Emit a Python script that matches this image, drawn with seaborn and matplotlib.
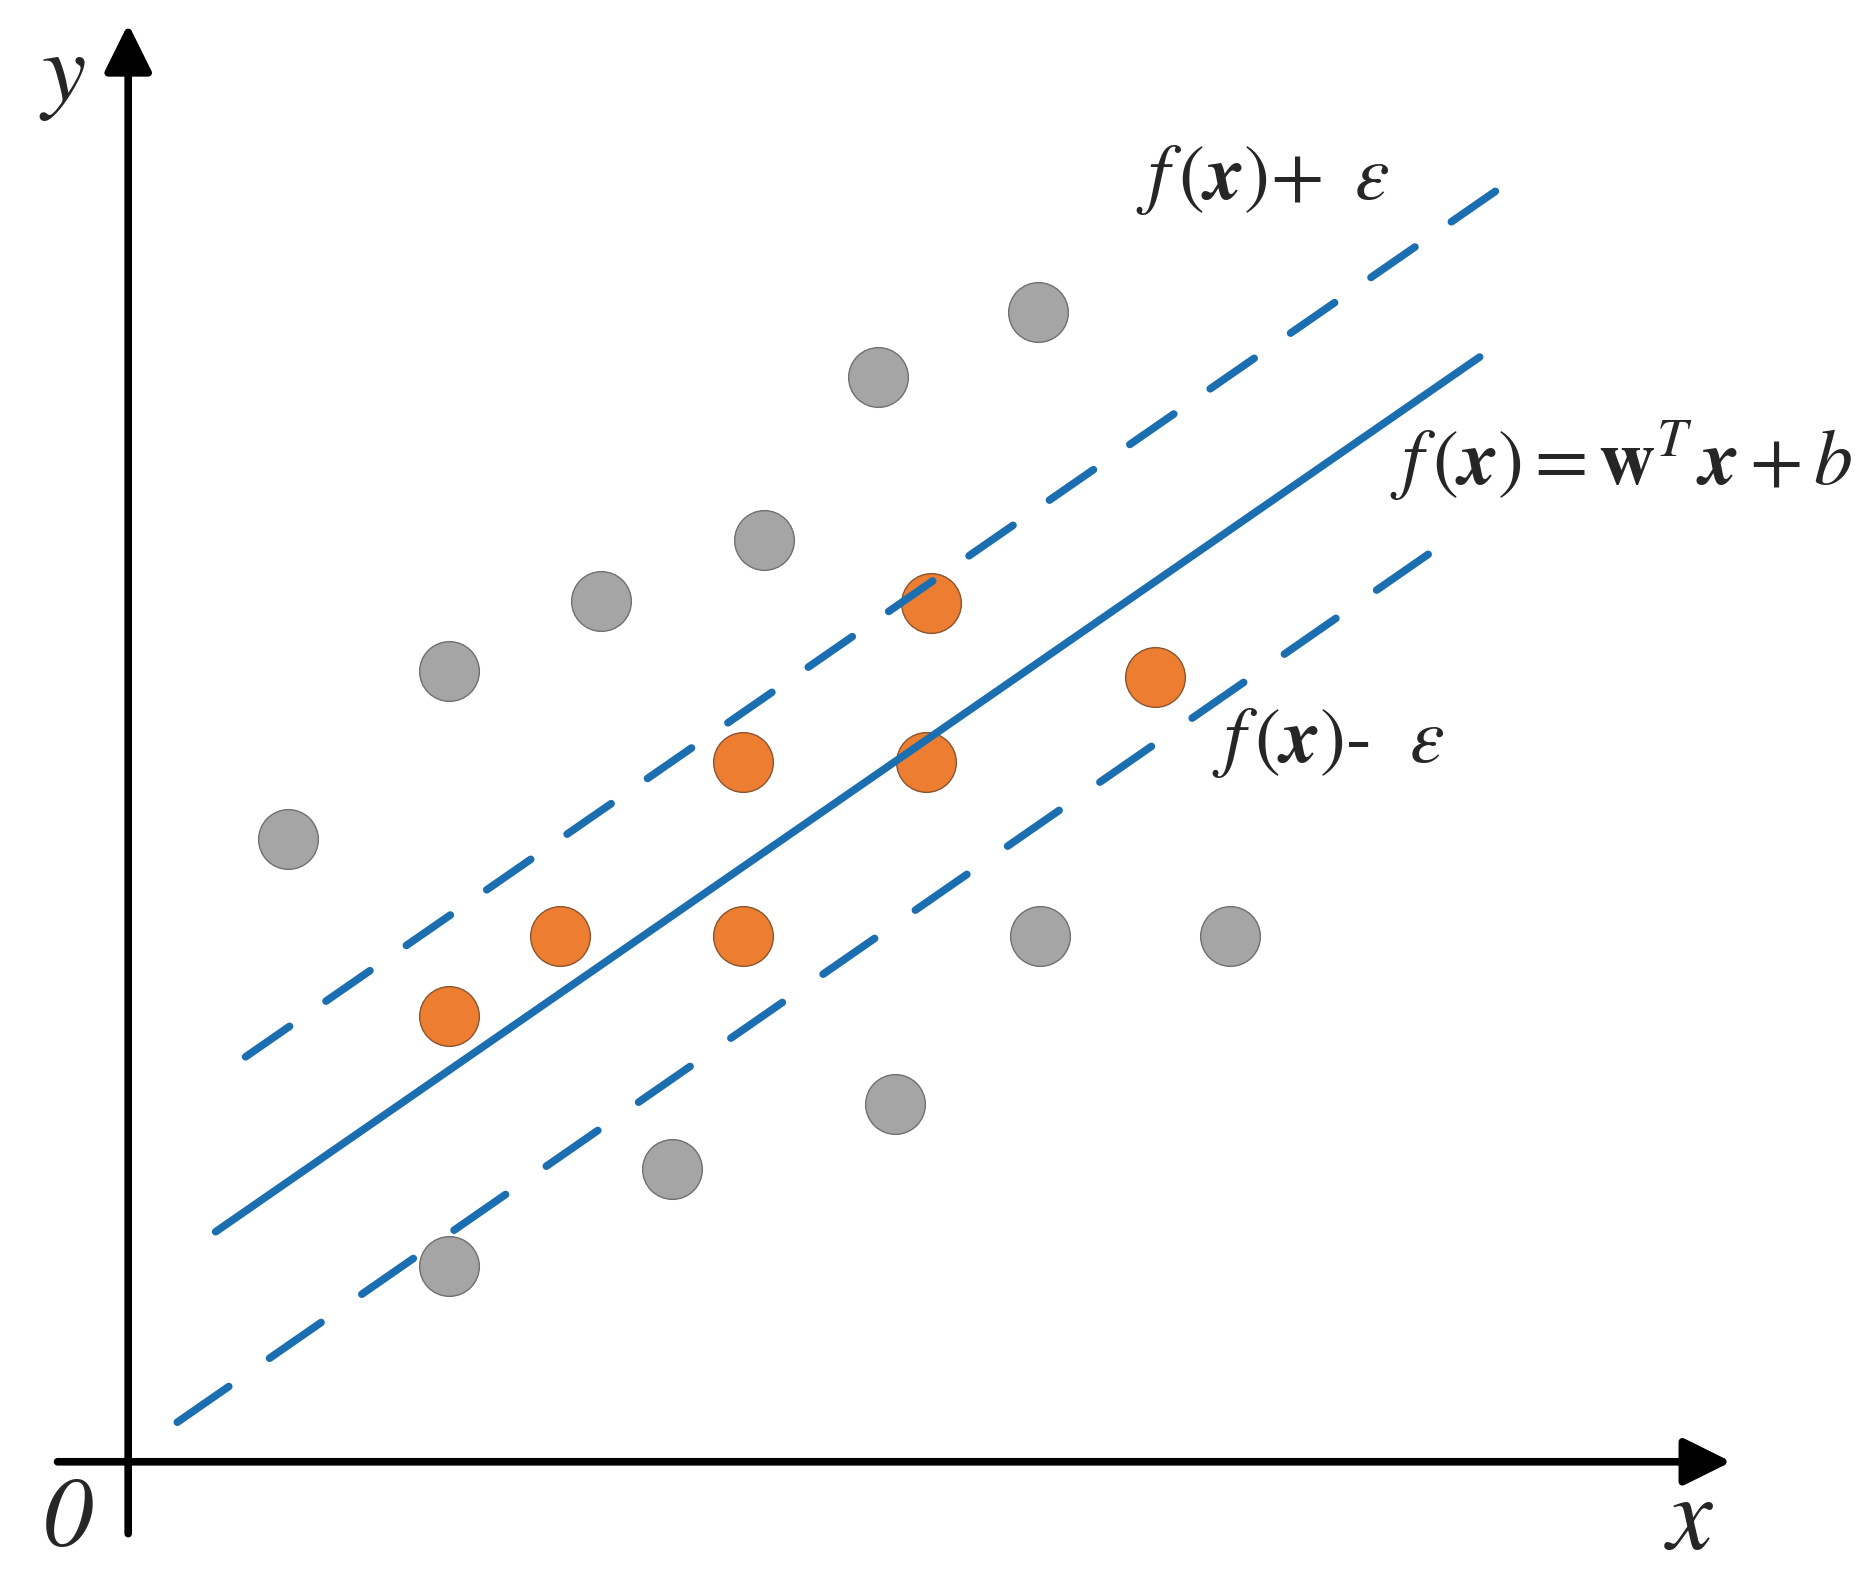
import matplotlib
matplotlib.use("Agg")
import matplotlib.pyplot as plt
import seaborn as sns
import pandas as pd

# points outside the epsilon tube (gray) and inside it (orange)
gray_x = [1.33, 2.68, 3.95, 5.31, 6.26, 7.59, 7.61, 9.20, 6.40, 4.54, 2.68]
gray_y = [5.20, 6.60, 7.18, 7.69, 9.05, 9.60, 4.39, 4.39, 2.99, 2.44, 1.63]
orange_x = [2.68, 3.60, 5.13, 5.13, 6.66, 6.70, 8.57]
orange_y = [3.72, 4.39, 4.39, 5.84, 5.84, 7.17, 6.55]

# regression line f(x) and the two tube borders f(x) +/- eps
line_x = [0.73, 11.28]
line_y = [1.92, 9.22]
upper_x = [0.98, 11.45]
upper_y = [3.38, 10.63]
lower_x = [0.41, 10.86]
lower_y = [0.33, 7.58]

sns.set_theme(style="white")
plt.rcParams["mathtext.fontset"] = "stix"
plt.rcParams["font.family"] = ["STIXGeneral", "DejaVu Serif"]

blue = "#1b6eb0"

fig = plt.figure(figsize=(18.69, 15.78), dpi=100)
ax = fig.add_axes([0, 0, 1, 1])
ax.set_xlim(-1.07, 14.53)
ax.set_ylim(-0.97, 12.20)
ax.axis("off")

gray_df = pd.DataFrame({"x": gray_x, "y": gray_y})
orange_df = pd.DataFrame({"x": orange_x, "y": orange_y})
sns.scatterplot(data=gray_df, x="x", y="y", s=1850, color="#a5a5a5",
                edgecolor="#707070", linewidth=1, zorder=2, ax=ax)
sns.scatterplot(data=orange_df, x="x", y="y", s=1850, color="#ed7d31",
                edgecolor="#8a5530", linewidth=1, zorder=2, ax=ax)

sns.lineplot(x=line_x, y=line_y, color=blue, lw=5.5, solid_capstyle="round",
             zorder=3, ax=ax)
sns.lineplot(x=upper_x, y=upper_y, color=blue, lw=5.5, linestyle=(0, (7, 5.8)),
             dash_capstyle="round", zorder=3, ax=ax)
sns.lineplot(x=lower_x, y=lower_y, color=blue, lw=5.5, linestyle=(0, (8.2, 6.5)),
             dash_capstyle="round", zorder=3, ax=ax)

# coordinate axes with arrow heads
arrow = dict(arrowstyle="-|>,head_length=1.45,head_width=0.72", lw=5.5,
             color="black", shrinkA=0, shrinkB=0, mutation_scale=20)
ax.annotate("", xy=(13.38, 0), xytext=(-0.59, 0), arrowprops=arrow, zorder=4)
ax.annotate("", xy=(0, 12.0), xytext=(0, -0.60), arrowprops=arrow, zorder=4)

ax.text(-0.55, 11.55, r"$y$", fontsize=72, ha="center", va="center")
ax.text(13.03, -0.52, r"$x$", fontsize=74, ha="center", va="center")
ax.text(-0.50, -0.50, "0", fontsize=72, style="italic", ha="center",
        va="center")

ax.text(8.41, 10.70, r"$f\,(\mathbfit{x})\!+\ \varepsilon$", fontsize=56,
        ha="left", va="center")
ax.text(10.53, 8.35, r"$f\,(\mathbfit{x})=\mathbf{w}^{T}\,\mathbfit{x}+b$",
        fontsize=56, ha="left", va="center")
ax.text(9.05, 6.00, r"$f\,(\mathbfit{x})$-  $\varepsilon$", fontsize=56,
        ha="left", va="center")

fig.savefig("out.png", dpi=100, facecolor="white")
